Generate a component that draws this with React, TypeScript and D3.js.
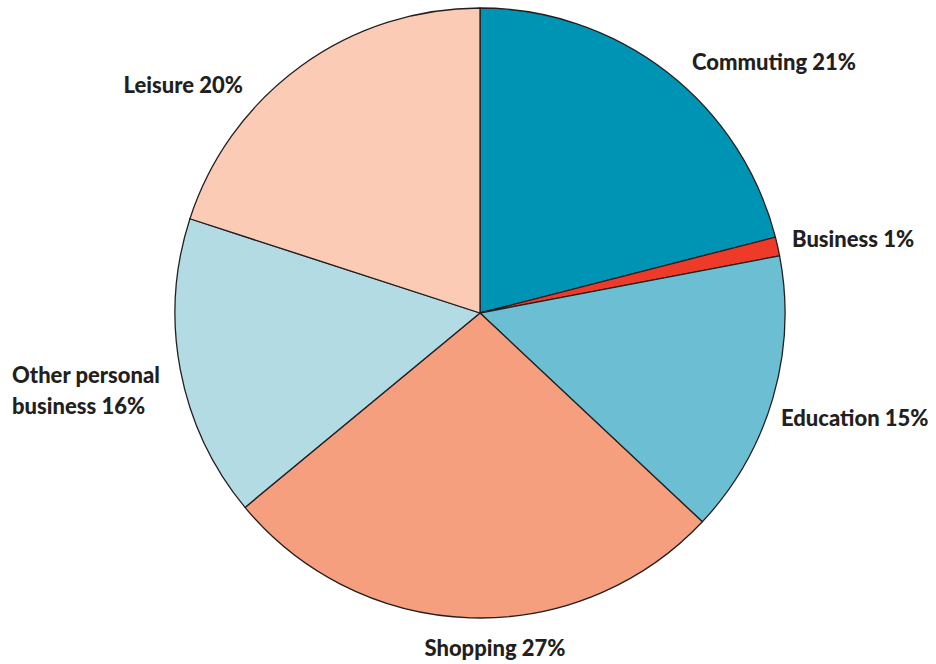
import React from "react";
import * as d3 from "d3";

const categories = ["Commuting", "Business", "Education", "Shopping", "Other personal business", "Leisure"];
const values = [21, 1, 15, 27, 16, 20];
const labelLines = [["Commuting 21%"], ["Business 1%"], ["Education 15%"], ["Shopping 27%"], ["Other personal", "business 16%"], ["Leisure 20%"]];

const colors = ["#0094b4", "#ee3a29", "#6cbfd2", "#f59f7e", "#b3dbe4", "#fccbb6"];
// label layout: x, y (first baseline), anchor
const labelLayout: [number, number, string][] = [
  [692, 70, "start"],
  [792, 247, "start"],
  [781, 426, "start"],
  [495, 656, "middle"],
  [12, 383, "start"],
  [243, 93, "end"],
];

export default function App() {
  const W = 936, H = 664;
  const cx = 480, cy = 313, r = 305;
  const pie = d3.pie<number>().sort(null).value((d) => d)(values);
  const arc = d3.arc<d3.PieArcDatum<number>>().innerRadius(0).outerRadius(r);
  return (
    <svg width={W} height={H} style={{ position: "absolute", left: 0, top: 0, background: "#fff" }}>
      <g transform={`translate(${cx},${cy})`}>
        {pie.map((p, i) => (
          <path key={categories[i]} d={arc(p) || ""} fill={colors[i]} stroke="#231f20" strokeWidth={1.3} strokeLinejoin="round" />
        ))}
      </g>
      {labelLines.map((lines, i) => (
        <text key={i} x={labelLayout[i][0]} y={labelLayout[i][1]} textAnchor={labelLayout[i][2] as any}
          fontFamily="Lato, 'Open Sans', sans-serif" fontWeight={900} fontSize={22} fill="#231f20">
          {lines.map((l, j) => (
            <tspan key={j} x={labelLayout[i][0]} dy={j === 0 ? 0 : 31}>{l}</tspan>
          ))}
        </text>
      ))}
    </svg>
  );
}
